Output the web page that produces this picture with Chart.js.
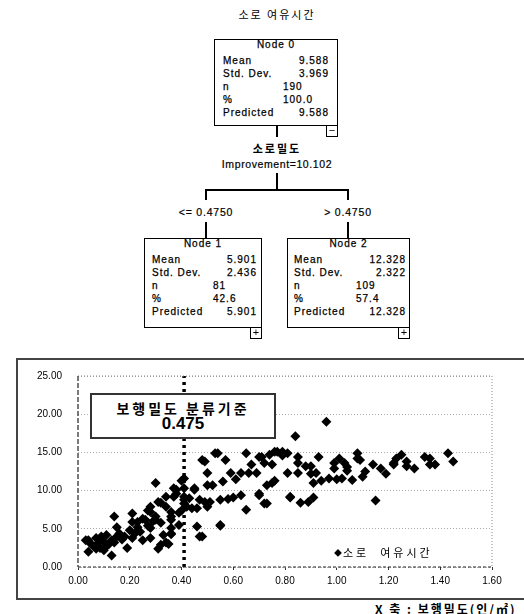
<!DOCTYPE html>
<html>
<head>
<meta charset="utf-8">
<script src="https://cdn.jsdelivr.net/npm/chart.js@4.4.1/dist/chart.umd.min.js"></script>
<style>
  body { margin: 0; width: 524px; height: 614px; position: relative; overflow: hidden; background: #fff;
         font-family: "Liberation Sans", Arial, sans-serif; color: #000; }
  .abs { position: absolute; }
  .kr { font-family: "Noto Sans CJK KR", "Noto Sans", sans-serif; }
  .node { position: absolute; border: 1.5px solid #000; box-sizing: border-box; background: #fff;
          font-size: 10px; letter-spacing: 1px; z-index: 3; -webkit-text-stroke: 0.25px #000; }
  .node div { position: absolute; line-height: 12px; white-space: nowrap; }
  .btn { position: absolute; width: 12px; height: 12px; border: 1.5px solid #000; box-sizing: border-box;
         background: #fff; font-size: 11px; line-height: 9px; text-align: center; z-index: 3; }
  .ln { position: absolute; background: #000; z-index: 2; }
  #scatter { position: absolute; left: 0; top: 0; z-index: 1; }
  #frame { position: absolute; left: 16px; top: 358px; width: 520px; height: 242px; border: 2px solid #444;
           box-sizing: border-box; z-index: 0; }
  #note { position: absolute; left: 90px; top: 393px; width: 186px; height: 46px; border: 2px solid #333;
          box-sizing: border-box; background: #fff; text-align: center; font-weight: bold; z-index: 2; }
</style>
</head>
<body>
<div id="frame"></div>
<canvas id="scatter" width="524" height="614"></canvas>
<div id="tree"></div>
<div id="note">
  <div class="kr" style="font-size:14px;letter-spacing:3px;line-height:15px;margin-top:6px">보행밀도 분류기준</div>
  <div style="font-size:17px;line-height:16px">0.475</div>
</div>
<div id="legend" class="abs kr" style="left:334px;top:544px;font-size:11px;letter-spacing:3px;white-space:pre;z-index:2"></div>
<div class="abs kr" style="left:375px;top:600px;font-size:12px;font-weight:bold;letter-spacing:2px;white-space:nowrap">X 축 : 보행밀도(인/㎡)</div>

<script>
// decision tree
const treeTitle = '소로 여유시간';
const splitVar = '소로밀도';
const improvement = 10.102;
const splitLabels = ['<= 0.4750', '> 0.4750'];
const nodeNames = ['Node 0', 'Node 1', 'Node 2'];
const nodeMean = [9.588, 5.901, 12.328];
const nodeStd = [3.969, 2.436, 2.322];
const nodeN = [190, 81, 109];
const nodePct = [100.0, 42.6, 57.4];
const nodePred = [9.588, 5.901, 12.328];

// scatter: 보행밀도 (x) vs 소로 여유시간 (y)
const seriesLabel = '소로 여유시간';
const walkDensity = [
  0.03, 0.04, 0.04, 0.05, 0.06, 0.07, 0.07, 0.08, 0.085, 0.09, 0.10, 0.10, 0.11, 0.11, 0.12, 0.13, 0.13, 0.14, 0.14, 0.15,
  0.15, 0.16, 0.17, 0.18, 0.19, 0.20, 0.21, 0.21, 0.21, 0.22, 0.23, 0.23, 0.24, 0.25, 0.25, 0.26, 0.27, 0.27, 0.28, 0.28,
  0.28, 0.28, 0.29, 0.30, 0.30, 0.30, 0.31, 0.31, 0.32, 0.32, 0.32, 0.33, 0.34, 0.34, 0.34, 0.35, 0.36, 0.36, 0.36, 0.36,
  0.36, 0.36, 0.37, 0.37, 0.38, 0.38, 0.39, 0.39, 0.40, 0.40, 0.41, 0.41, 0.41, 0.41, 0.41, 0.42, 0.43, 0.44, 0.45, 0.45,
  0.46, 0.46, 0.47, 0.47, 0.48, 0.48, 0.49, 0.49, 0.50, 0.50, 0.50, 0.51, 0.52, 0.53, 0.54, 0.55, 0.55, 0.55, 0.56, 0.57,
  0.58, 0.59, 0.60, 0.61, 0.63, 0.63, 0.65, 0.65, 0.66, 0.67, 0.69, 0.70, 0.70, 0.70, 0.71, 0.72, 0.72, 0.73, 0.73, 0.74,
  0.75, 0.75, 0.76, 0.76, 0.77, 0.79, 0.79, 0.81, 0.81, 0.82, 0.82, 0.84, 0.85, 0.85, 0.85, 0.86, 0.88, 0.89, 0.90, 0.90,
  0.91, 0.91, 0.92, 0.93, 0.94, 0.96, 0.97, 0.99, 0.99, 1.00, 1.01, 1.02, 1.03, 1.04, 1.04, 1.06, 1.08, 1.08, 1.09, 1.10,
  1.11, 1.14, 1.15, 1.17, 1.19, 1.22, 1.22, 1.23, 1.25, 1.27, 1.27, 1.30, 1.34, 1.36, 1.36, 1.38, 1.43, 1.45
];
const slackTime = [
  3.5, 2.0, 3.5, 3.0, 2.7, 3.8, 2.4, 3.2, 2.5, 4.0, 3.3, 2.2, 2.7, 4.2, 3.0, 3.5, 1.5, 3.2, 6.6, 5.2,
  4.0, 4.4, 3.6, 4.0, 2.5, 4.8, 3.8, 5.9, 7.0, 4.4, 5.2, 5.9, 4.6, 3.5, 6.3, 6.2, 7.4, 5.4, 7.2, 7.9,
  3.8, 5.1, 6.0, 6.2, 6.6, 11.0, 8.5, 2.4, 5.8, 8.4, 2.9, 4.2, 7.9, 9.2, 3.2, 3.0, 6.2, 5.1, 4.3, 7.2,
  6.6, 4.4, 9.2, 10.3, 10.1, 9.6, 5.5, 7.1, 11.3, 7.4, 8.8, 11.6, 10.3, 9.2, 8.3, 7.9, 9.0, 7.7, 10.3, 10.1,
  7.7, 5.3, 8.8, 4.0, 14.0, 4.0, 13.8, 8.5, 12.3, 10.7, 7.9, 8.5, 10.7, 14.9, 14.9, 8.8, 5.5, 5.4, 11.2, 14.0,
  8.9, 12.3, 9.1, 11.5, 12.3, 9.4, 14.9, 7.5, 12.3, 13.4, 12.3, 14.4, 9.4, 9.6, 14.4, 13.6, 8.3, 10.7, 8.3, 14.7,
  11.0, 13.4, 15.1, 11.3, 15.1, 14.6, 15.1, 14.9, 12.3, 9.1, 9.2, 17.1, 13.6, 14.4, 12.3, 8.4, 13.2, 8.5, 13.2, 12.2,
  11.0, 9.1, 12.3, 14.4, 11.3, 19.0, 11.6, 13.6, 12.9, 11.5, 14.2, 11.6, 13.6, 13.1, 12.6, 11.4, 14.9, 14.2, 14.0, 11.8,
  12.5, 13.4, 8.7, 12.9, 12.2, 13.6, 13.4, 14.2, 14.7, 13.8, 13.2, 12.9, 14.4, 14.2, 13.4, 13.4, 14.9, 13.8
];
const splitX = 0.41;
const xTicks = [0, 0.2, 0.4, 0.6, 0.8, 1.0, 1.2, 1.4, 1.6];
const yTicks = [0, 5, 10, 15, 20, 25];

// ---- tree (html) ----
const tree = document.getElementById('tree');
function add(cls, css, text) {
  const d = document.createElement('div');
  if (cls) d.className = cls;
  d.style.cssText = css;
  if (text != null) d.textContent = text;
  tree.appendChild(d);
  return d;
}
add('abs kr', 'left:0;width:554px;text-align:center;top:6px;font-size:11px;letter-spacing:2px', treeTitle);

const boxes = [
  { left: 214, top: 39, w: 124, h: 87, padL: 8, padR: 8, btn: '−' },
  { left: 144, top: 238, w: 118, h: 90, padL: 7, padR: 4, btn: '+' },
  { left: 287, top: 238, w: 123, h: 90, padL: 6, padR: 3, btn: '+' }
];
boxes.forEach((b, i) => {
  const box = add('node', `left:${b.left}px;top:${b.top}px;width:${b.w}px;height:${b.h}px`);
  const rows = [
    ['Mean', nodeMean[i].toFixed(3), 'r'],
    ['Std. Dev.', nodeStd[i].toFixed(3), 'r'],
    ['n', String(nodeN[i]), 'l'],
    ['%', nodePct[i].toFixed(1), 'l'],
    ['Predicted', nodePred[i].toFixed(3), 'r']
  ];
  const h = document.createElement('div');
  h.style.cssText = 'left:0;right:0;text-align:center;top:-1px';
  h.textContent = nodeNames[i];
  box.appendChild(h);
  rows.forEach((r, k) => {
    const y = 15 + k * 13;
    const a = document.createElement('div');
    a.style.cssText = `left:${b.padL}px;top:${y}px`;
    a.textContent = r[0];
    box.appendChild(a);
    const v = document.createElement('div');
    v.style.cssText = r[2] === 'r' ? `right:${b.padR}px;top:${y}px` : `left:68px;top:${y}px`;
    v.textContent = r[1];
    box.appendChild(v);
  });
  add('btn', `left:${b.left + b.w - 12}px;top:${b.top + b.h - 1}px`, b.btn);
});

// connectors
add('ln', 'left:276px;top:126px;width:1.5px;height:11px');
add('abs kr', 'left:0;width:554px;text-align:center;top:140px;font-size:11px;font-weight:bold;letter-spacing:2px', splitVar);
add('abs', 'left:0;width:554px;text-align:center;top:158px;font-size:10.5px;letter-spacing:0.6px;-webkit-text-stroke:0.2px #000', 'Improvement=' + improvement.toFixed(3));
add('ln', 'left:276px;top:173px;width:1.5px;height:17px');
add('ln', 'left:205px;top:189px;width:144px;height:1.5px');
add('ln', 'left:205px;top:189px;width:1.5px;height:11px');
add('ln', 'left:347px;top:189px;width:1.5px;height:11px');
add('abs', 'left:156px;width:100px;text-align:center;top:206px;font-size:10.5px;letter-spacing:0.8px;-webkit-text-stroke:0.2px #000', splitLabels[0]);
add('abs', 'left:298px;width:100px;text-align:center;top:206px;font-size:10.5px;letter-spacing:0.8px;-webkit-text-stroke:0.2px #000', splitLabels[1]);
add('ln', 'left:205px;top:222px;width:1.5px;height:16px');
add('ln', 'left:347px;top:222px;width:1.5px;height:16px');

const legend = document.getElementById('legend');
legend.innerHTML = '<span style="font-size:8px;letter-spacing:1px;vertical-align:1px">◆</span>';
legend.appendChild(document.createTextNode(seriesLabel.replace(' ', '  ')));

// ---- scatter (chart.js) ----
const points = walkDensity.map((x, i) => ({ x: x, y: slackTime[i] }));

const framePlugin = {
  id: 'frame',
  afterDatasetsDraw(chart) {
    const { ctx, chartArea: a } = chart;
    ctx.save();
    ctx.lineWidth = 1;
    ctx.strokeStyle = '#888';
    ctx.setLineDash([1, 2]);
    ctx.beginPath();
    ctx.moveTo(a.left, a.top); ctx.lineTo(a.right, a.top); ctx.lineTo(a.right, a.bottom);
    ctx.stroke();
    ctx.strokeStyle = '#222';
    ctx.lineWidth = 1.2;
    ctx.setLineDash([5, 2]);
    ctx.beginPath();
    ctx.moveTo(a.left, a.top); ctx.lineTo(a.left, a.bottom);
    ctx.stroke();
    ctx.setLineDash([3, 2]);
    ctx.beginPath();
    ctx.moveTo(a.left, a.bottom); ctx.lineTo(a.right, a.bottom);
    ctx.stroke();
    ctx.restore();
  }
};

const tickFont = { family: 'Liberation Sans', size: 10 };

new Chart(document.getElementById('scatter'), {
  type: 'scatter',
  data: {
    datasets: [
      {
        label: 'split',
        type: 'line',
        data: [{ x: splitX, y: 0 }, { x: splitX, y: 25 }],
        borderColor: '#000',
        borderWidth: 3.5,
        borderDash: [3, 4],
        pointRadius: 0,
        order: 0
      },
      {
        label: seriesLabel,
        data: points,
        pointStyle: 'rectRot',
        pointRadius: 5,
        pointHoverRadius: 5,
        backgroundColor: '#000',
        borderColor: '#000',
        borderWidth: 0,
        order: 1
      }
    ]
  },
  options: {
    responsive: false,
    animation: false,
    layout: { padding: { left: 17, top: 376, right: 32, bottom: 0 } },
    plugins: { legend: { display: false }, tooltip: { enabled: false } },
    scales: {
      x: {
        type: 'linear',
        min: 0,
        max: 1.6,
        afterBuildTicks: s => { s.ticks = xTicks.map(v => ({ value: v })); },
        afterFit: s => { s.height = 47; },
        ticks: { callback: v => v.toFixed(2), font: tickFont, color: '#000', padding: 5, maxRotation: 0, autoSkip: false },
        grid: { drawOnChartArea: false, drawTicks: true, tickLength: 3, color: '#333' },
        border: { display: false }
      },
      y: {
        min: 0,
        max: 25,
        afterBuildTicks: s => { s.ticks = yTicks.map(v => ({ value: v })); },
        afterFit: s => { s.width = 61; },
        ticks: { callback: v => v.toFixed(2), font: tickFont, color: '#000', padding: 16 },
        grid: { drawTicks: false, color: '#aaa' },
        border: { display: false, dash: [1, 2] }
      }
    }
  },
  plugins: [framePlugin]
});
</script>
</body>
</html>
